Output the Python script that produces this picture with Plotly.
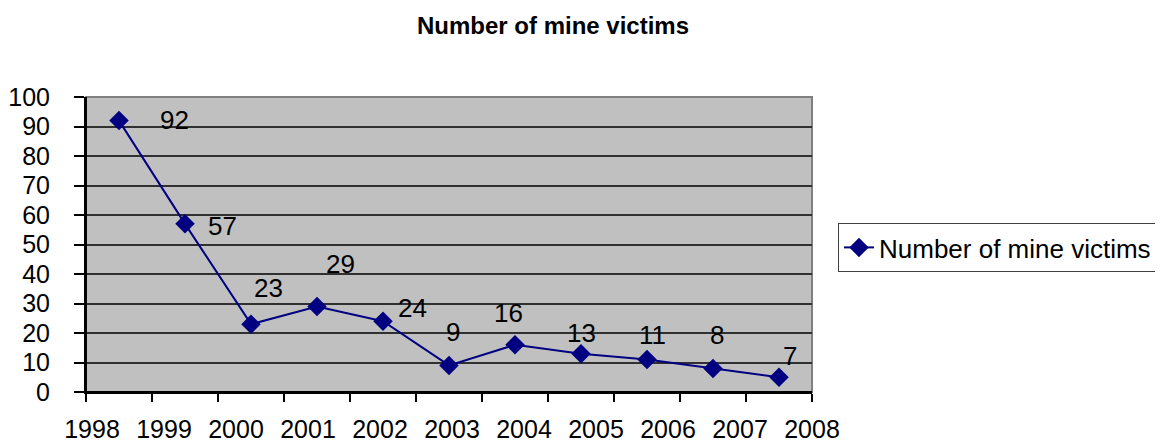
import plotly.graph_objects as go

# ---- data ----
years = [1998, 1999, 2000, 2001, 2002, 2003, 2004, 2005, 2006, 2007, 2008]
victims = [92, 57, 23, 29, 24, 9, 16, 13, 11, 8, 5]
label_texts = ["92", "57", "23", "29", "24", "9", "16", "13", "11", "8", "7"]
series_name = "Number of mine victims"
title_text = "Number of mine victims"

# ---- styling (label offsets in px) ----
label_dx = [55, 37, 17, 23, 29, 4, -7, 0, 5, 4, 11]
label_dy = [1, -2, 36, 42, 13, 33, 32, 21, 25, 33, 21]

n = len(years)
xpos = [i + 0.5 for i in range(n)]
FONT = "Liberation Sans, Arial, sans-serif"
NAVY = "#000080"
OFF = 8  # page body margin
W, H = 1163 - 2 * OFF, 443 - OFF
L, T = 86 - OFF, 97 - OFF
R = W - (812 - OFF)
B = H - (392 - OFF)
PW, PH = W - L - R, H - T - B

fig = go.Figure()
fig.add_trace(go.Scatter(
    x=xpos, y=victims, mode="lines+markers", name=series_name,
    line=dict(color=NAVY, width=2),
    marker=dict(symbol="diamond", size=15, color=NAVY),
))
# invisible trace for label axis
fig.add_trace(go.Scatter(x=[years[0]], y=[None], xaxis="x2", showlegend=False,
                         hoverinfo="skip"))

for i in range(n):
    fig.add_annotation(x=xpos[i], y=victims[i], text=label_texts[i],
                       showarrow=False, xshift=label_dx[i], yshift=label_dy[i],
                       font=dict(family=FONT, size=26, color="black"))

fig.update_layout(
    width=W, height=H,
    margin=dict(l=L, r=R, t=T, b=B, autoexpand=False),
    paper_bgcolor="white", plot_bgcolor="#c0c0c0",
    title=dict(text="<b>" + title_text + "</b>", x=(553 - OFF) / W, xanchor="center",
               y=1 - (26 - OFF) / H, yanchor="middle",
               font=dict(family=FONT, size=24, color="black")),
    font=dict(family=FONT, size=26, color="black"),
    showlegend=True,
    legend=dict(x=(838 - 86) / PW, xanchor="left", y=(392 - 223) / PH, yanchor="top",
                bordercolor="#404040", borderwidth=1, bgcolor="white",
                font=dict(family=FONT, size=26, color="black"),
                itemwidth=30, tracegroupgap=0),
    xaxis=dict(range=[0, n], tickvals=list(range(n + 1)), showticklabels=False,
               ticks="outside", ticklen=8, tickwidth=2, tickcolor="black",
               showgrid=False, zeroline=False, automargin=False,
               showline=True, linecolor="black", linewidth=2, mirror=False),
    xaxis2=dict(overlaying="x", side="bottom", anchor="y",
                range=[years[0] - 1 / 12, years[-1]],
                tickvals=years, ticktext=[str(y) for y in years],
                ticks="", showgrid=False, zeroline=False, showline=False,
                ticklabelstandoff=20, automargin=False,
                tickfont=dict(family=FONT, size=25, color="black")),
    yaxis=dict(range=[0, 100], tickvals=list(range(0, 101, 10)),
               ticks="outside", ticklen=10, tickwidth=2, tickcolor="black",
               ticklabelstandoff=19, automargin=False,
               showgrid=True, gridcolor="#303030", gridwidth=1.5,
               zeroline=False, showline=True, linecolor="black", linewidth=2,
               tickfont=dict(family=FONT, size=25, color="black")),
)
# gray border top/right of plot area
fig.add_shape(type="rect", xref="paper", yref="paper", x0=0, y0=0, x1=1, y1=1,
              line=dict(color="#808080", width=2), layer="below")
fig.add_shape(type="line", xref="paper", yref="paper", x0=0, y0=0, x1=0, y1=1,
              line=dict(color="black", width=2))
fig.add_shape(type="line", xref="paper", yref="paper", x0=0, y0=0, x1=1, y1=0,
              line=dict(color="black", width=2))

fig.write_html("out.html")
